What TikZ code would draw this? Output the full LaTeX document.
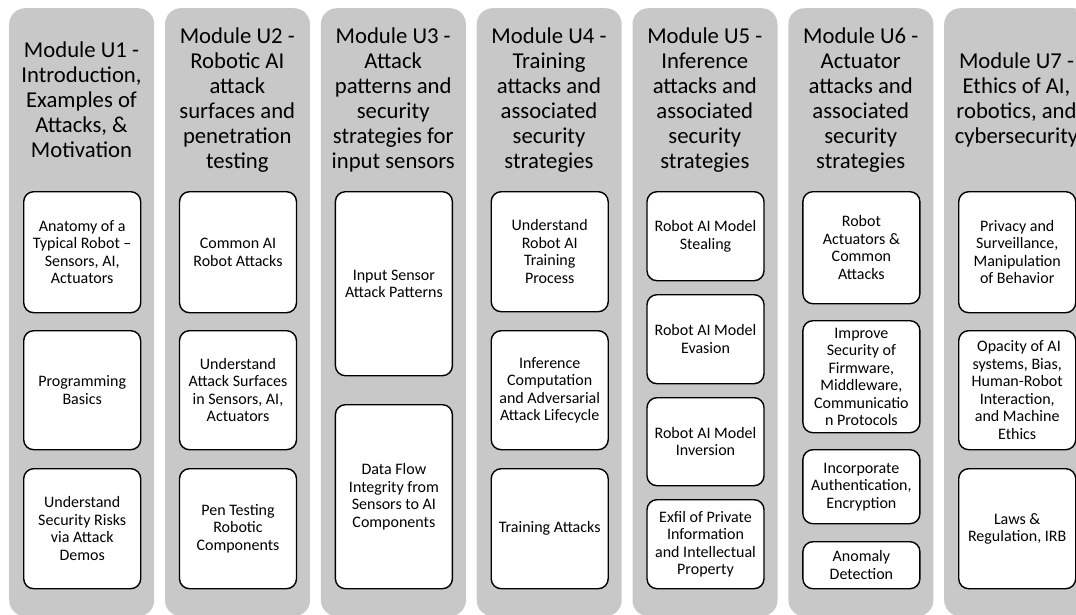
\documentclass[tikz,border=0pt]{standalone}
\usepackage{fontspec}
\setmainfont{Carlito}
\definecolor{colgray}{RGB}{200,200,200}
\tikzset{
  col/.style={fill=colgray, draw=none, rounded corners=16pt, minimum width=145pt, minimum height=608pt, anchor=north west, inner sep=0pt},
  ttl/.style={align=center, font=\fontsize{22.7}{25}\selectfont, text=black, inner sep=0pt},
  bx/.style={draw=black, line width=1.4pt, fill=white, rounded corners=10pt, align=center, font=\fontsize{16}{17.5}\selectfont, anchor=north west, minimum width=117pt, inner sep=0pt},
}
\newcommand\mybox[5]{\node[bx, minimum height={(#4-#3)*1pt}] (#1) at (#2,#3) {#5};}
\begin{document}
\begin{tikzpicture}[x=1pt,y=-1pt]
\useasboundingbox (0,0) rectangle (1076,615);
\clip (0,0) rectangle (1076,615);
% columns
\node[col] (c1) at (9,8) {};
\node[col] (c2) at (164.8,8) {};
\node[col] (c3) at (320.7,8) {};
\node[col] (c4) at (476.5,8) {};
\node[col] (c5) at (632.3,8) {};
\node[col] (c6) at (788.2,8) {};
\node[col] (c7) at (944,8) {};
% titles
\node[ttl] (t1) at (81.5,100) {Module U1 -\\Introduction,\\Examples of\\Attacks, \&\\Motivation};
\node[ttl] (t2) at (237.3,100) {Module U2 -\\Robotic AI\\attack\\surfaces and\\penetration\\testing};
\node[ttl] (t3) at (393.2,100) {Module U3 -\\Attack\\patterns and\\security\\strategies for\\input sensors};
\node[ttl] (t4) at (549,100) {Module U4 -\\Training\\attacks and\\associated\\security\\strategies};
\node[ttl] (t5) at (704.8,100) {Module U5 -\\Inference\\attacks and\\associated\\security\\strategies};
\node[ttl] (t6) at (860.7,100) {Module U6 -\\Actuator\\attacks and\\associated\\security\\strategies};
\node[ttl] (t7) at (1016.5,100) {Module U7 -\\Ethics of AI,\\robotics, and\\cybersecurity};
% column 1
\mybox{b11}{23}{191}{312}{Anatomy of a\\Typical Robot --\\Sensors, AI,\\Actuators}
\mybox{b12}{23}{330}{449}{Programming\\Basics}
\mybox{b13}{23}{468}{588}{Understand\\Security Risks\\via Attack\\Demos}
% column 2
\mybox{b21}{178.8}{191}{312}{Common AI\\Robot Attacks}
\mybox{b22}{178.8}{330}{449}{Understand\\Attack Surfaces\\in Sensors, AI,\\Actuators}
\mybox{b23}{178.8}{468}{588}{Pen Testing\\Robotic\\Components}
% column 3
\mybox{b31}{334.7}{191}{375}{Input Sensor\\Attack Patterns}
\mybox{b32}{334.7}{404}{588}{Data Flow\\Integrity from\\Sensors to AI\\Components}
% column 4
\mybox{b41}{490.5}{191}{311}{Understand\\Robot AI\\Training\\Process}
\mybox{b42}{490.5}{330}{449}{Inference\\Computation\\and Adversarial\\Attack Lifecycle}
\mybox{b43}{490.5}{468}{588}{Training Attacks}
% column 5
\mybox{b51}{646.3}{191}{280}{Robot AI Model\\Stealing}
\mybox{b52}{646.3}{294}{383}{Robot AI Model\\Evasion}
\mybox{b53}{646.3}{397}{485}{Robot AI Model\\Inversion}
\mybox{b54}{646.3}{499}{588}{Exfil of Private\\Information\\and Intellectual\\Property}
% column 6
\mybox{b61}{802.2}{191}{303}{Robot\\Actuators \&\\Common\\Attacks}
\mybox{b62}{802.2}{320}{432}{Improve\\Security of\\Firmware,\\Middleware,\\Communicatio\\n Protocols}
\mybox{b63}{802.2}{449}{523}{Incorporate\\Authentication,\\Encryption}
\mybox{b64}{802.2}{541}{588}{Anomaly\\Detection}
% column 7
\mybox{b71}{958}{191}{312}{Privacy and\\Surveillance,\\Manipulation\\of Behavior}
\mybox{b72}{958}{330}{449}{\ Opacity of AI\\systems, Bias,\\Human-Robot\\Interaction,\\and Machine\\Ethics}
\mybox{b73}{958}{468}{588}{Laws \&\\Regulation, IRB}
\end{tikzpicture}
\end{document}
